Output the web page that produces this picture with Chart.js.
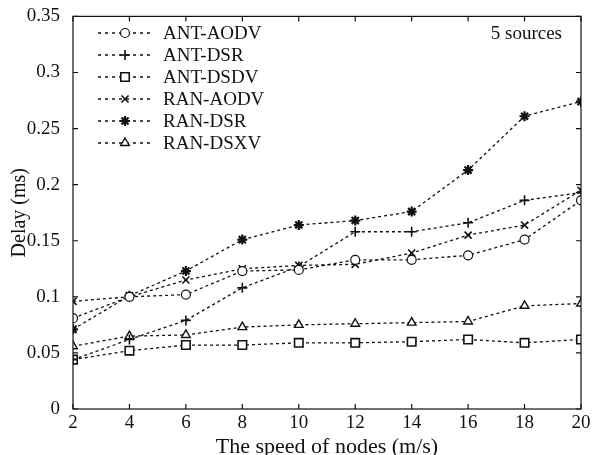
<!DOCTYPE html>
<html>
<head>
<meta charset="utf-8">
<script src="https://cdn.jsdelivr.net/npm/chart.js@4.4.0/dist/chart.umd.min.js"></script>
<style>
  html, body { margin: 0; padding: 0; background: #fff; }
  #wrap { width: 593px; height: 455px; }
</style>
</head>
<body>
<div id="wrap"><canvas id="delayChart" width="593" height="455"></canvas></div>
<script>
// speed of nodes (m/s)
const speeds = [2, 4, 6, 8, 10, 12, 14, 16, 18, 20];

// delay values (ms)
const antAodv = [0.081, 0.100, 0.102, 0.123, 0.124, 0.133, 0.133, 0.137, 0.151, 0.186];
const antDsr  = [0.044, 0.062, 0.079, 0.108, 0.127, 0.158, 0.158, 0.166, 0.186, 0.193];
const antDsdv = [0.044, 0.052, 0.057, 0.057, 0.059, 0.059, 0.060, 0.062, 0.059, 0.062];
const ranAodv = [0.096, 0.100, 0.115, 0.125, 0.128, 0.129, 0.139, 0.155, 0.164, 0.195];
const ranDsr  = [0.071, 0.101, 0.123, 0.151, 0.164, 0.168, 0.176, 0.213, 0.261, 0.274];
const ranDsxv = [0.056, 0.065, 0.066, 0.073, 0.075, 0.076, 0.077, 0.078, 0.092, 0.094];

const seriesNames = ["ANT-AODV", "ANT-DSR", "ANT-DSDV", "RAN-AODV", "RAN-DSR", "RAN-DSXV"];
const noteText = "5 sources";

const FONT = "'Liberation Serif', 'Times New Roman', serif";
const INK = "#111";

function makeSet(label, values, style, radius, bw) {
  return {
    label: label,
    data: speeds.map((s, i) => ({ x: s, y: values[i] })),
    borderColor: INK,
    borderWidth: 1.3,
    borderDash: [3, 3],
    tension: 0,
    fill: false,
    pointStyle: style,
    pointRadius: radius,
    pointBorderWidth: bw,
    pointBorderColor: INK,
    pointBackgroundColor: "#fff",
  };
}

// box with inward ticks, inline legend, annotation
const framePlugin = {
  id: "frame",
  afterDraw(chart) {
    const ctx = chart.ctx;
    const { left, right, top, bottom } = chart.chartArea;
    const xs = chart.scales.x, ys = chart.scales.y;
    ctx.save();
    ctx.strokeStyle = INK;
    ctx.lineWidth = 1.2;
    ctx.setLineDash([]);
    ctx.strokeRect(left, top, right - left, bottom - top);
    const tl = 5;
    ctx.beginPath();
    xs.ticks.forEach(t => {
      const px = xs.getPixelForValue(t.value);
      ctx.moveTo(px, bottom); ctx.lineTo(px, bottom - tl);
      ctx.moveTo(px, top); ctx.lineTo(px, top + tl);
    });
    ys.ticks.forEach(t => {
      const py = ys.getPixelForValue(t.value);
      ctx.moveTo(left, py); ctx.lineTo(left + tl, py);
      ctx.moveTo(right, py); ctx.lineTo(right - tl, py);
    });
    ctx.stroke();

    // legend
    ctx.font = "19px " + FONT;
    ctx.fillStyle = INK;
    ctx.textBaseline = "middle";
    chart.data.datasets.forEach((ds, i) => {
      const y = 33 + i * 22;
      ctx.beginPath();
      ctx.lineWidth = 1.3;
      ctx.setLineDash([3, 4]);
      ctx.moveTo(98, y); ctx.lineTo(152, y);
      ctx.stroke();
      ctx.setLineDash([]);
      ctx.fillStyle = "#fff";
      ctx.lineWidth = ds.pointBorderWidth;
      Chart.helpers.drawPoint(ctx, {
        pointStyle: ds.pointStyle, radius: ds.pointRadius, rotation: 0, borderWidth: ds.pointBorderWidth
      }, 125, y);
      ctx.fillStyle = INK;
      ctx.textAlign = "left";
      ctx.fillText(ds.label, 163, y + 1);
    });

    ctx.textAlign = "right";
    ctx.fillText(noteText, 562, 34);
    ctx.restore();
  }
};

new Chart(document.getElementById("delayChart"), {
  type: "line",
  data: {
    datasets: [
      makeSet(seriesNames[0], antAodv, "circle", 4.5, 1.2),
      makeSet(seriesNames[1], antDsr, "cross", 5, 1.6),
      makeSet(seriesNames[2], antDsdv, "rect", 6, 1.6),
      makeSet(seriesNames[3], ranAodv, "crossRot", 5, 1.6),
      makeSet(seriesNames[4], ranDsr, "star", 5, 2.2),
      makeSet(seriesNames[5], ranDsxv, "triangle", 5, 1.4),
    ],
  },
  options: {
    responsive: false,
    animation: false,
    layout: { padding: { top: 15, right: 12, left: 0, bottom: 0 } },
    plugins: {
      legend: { display: false },
      tooltip: { enabled: false },
    },
    scales: {
      x: {
        type: "linear",
        min: 2,
        max: 20,
        grid: { display: false },
        border: { display: false },
        ticks: { stepSize: 2, padding: -5, color: INK, font: { family: FONT, size: 19 } },
        title: {
          display: true,
          text: "The speed of nodes (m/s)",
          color: INK,
          font: { family: FONT, size: 22, lineHeight: 1 },
          padding: { top: 0, bottom: -3 },
        },
        afterFit(scale) { scale.height = 46; },
      },
      y: {
        min: 0,
        max: 0.35,
        grid: { display: false },
        border: { display: false },
        ticks: {
          stepSize: 0.05,
          padding: 5,
          color: INK,
          font: { family: FONT, size: 19 },
          callback: v => String(Math.round(v * 100) / 100),
        },
        title: {
          display: true,
          text: "Delay (ms)",
          color: INK,
          font: { family: FONT, size: 20 },
          padding: { top: 8, bottom: 0 },
        },
        afterFit(scale) { scale.width = 73; },
      },
    },
  },
  plugins: [framePlugin],
});
</script>
</body>
</html>
